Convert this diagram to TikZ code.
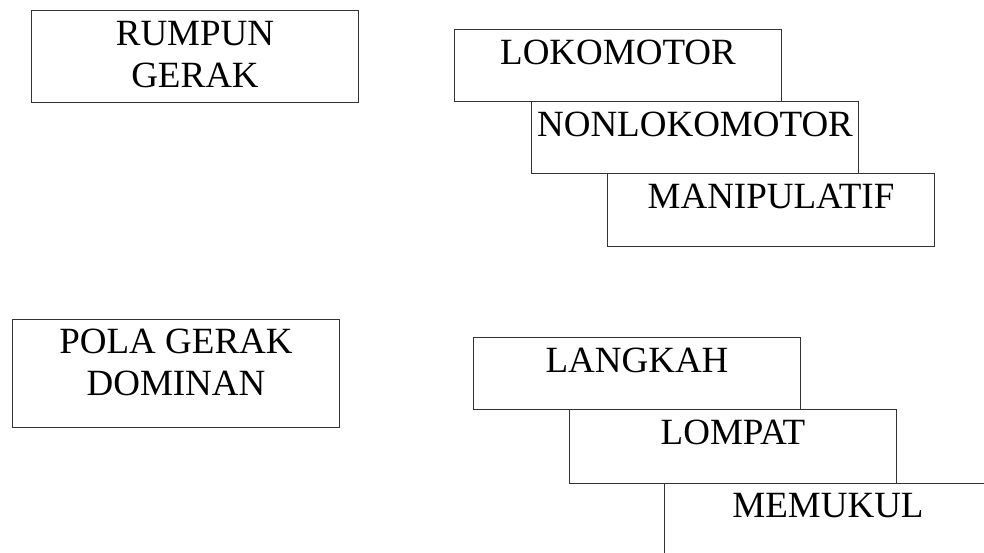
\documentclass[tikz,border=0pt]{standalone}
\usepackage{fontspec}
\setmainfont{Liberation Serif}
\begin{document}
\begin{tikzpicture}[x=1pt,y=-1pt,
  box/.style={draw=black!80, line width=1pt, rectangle, inner sep=0pt, anchor=north west, minimum width=327pt},
  lbl/.style={inner sep=0pt, anchor=north, align=center, font=\fontsize{37}{42}\selectfont}]
\clip (0,0) rectangle (984,552);
\fill[white] (0,0) rectangle (984,552);
% boxes
\node[box, minimum height=92pt] (rumpun) at (31,10) {};
\node[box, minimum height=72pt] (loko) at (454,29) {};
\node[box, minimum height=72pt] (nonloko) at (531,101) {};
\node[box, minimum height=73pt] (manip) at (607,173) {};
\node[box, minimum height=108pt] (pola) at (12,319) {};
\node[box, minimum height=72pt] (langkah) at (473,337) {};
\node[box, minimum height=74pt] (lompat) at (569,409) {};
\node[box, minimum height=72pt] (memukul) at (664,483) {};
% labels
\node[lbl] (trumpun) at ([yshift=-11pt]rumpun.north) {RUMPUN\\GERAK};
\node[lbl] (tloko) at ([yshift=-10.5pt]loko.north) {LOKOMOTOR};
\node[lbl] (tnonloko) at ([yshift=-10.5pt]nonloko.north) {NONLOKOMOTOR};
\node[lbl] (tmanip) at ([yshift=-11pt]manip.north) {MANIPULATIF};
\node[lbl] (tpola) at ([yshift=-10pt]pola.north) {POLA GERAK\\DOMINAN};
\node[lbl] (tlangkah) at ([yshift=-10.5pt]langkah.north) {LANGKAH};
\node[lbl] (tlompat) at ([yshift=-10.5pt]lompat.north) {LOMPAT};
\node[lbl] (tmemukul) at ([yshift=-10.5pt]memukul.north) {MEMUKUL};
\end{tikzpicture}
\end{document}
